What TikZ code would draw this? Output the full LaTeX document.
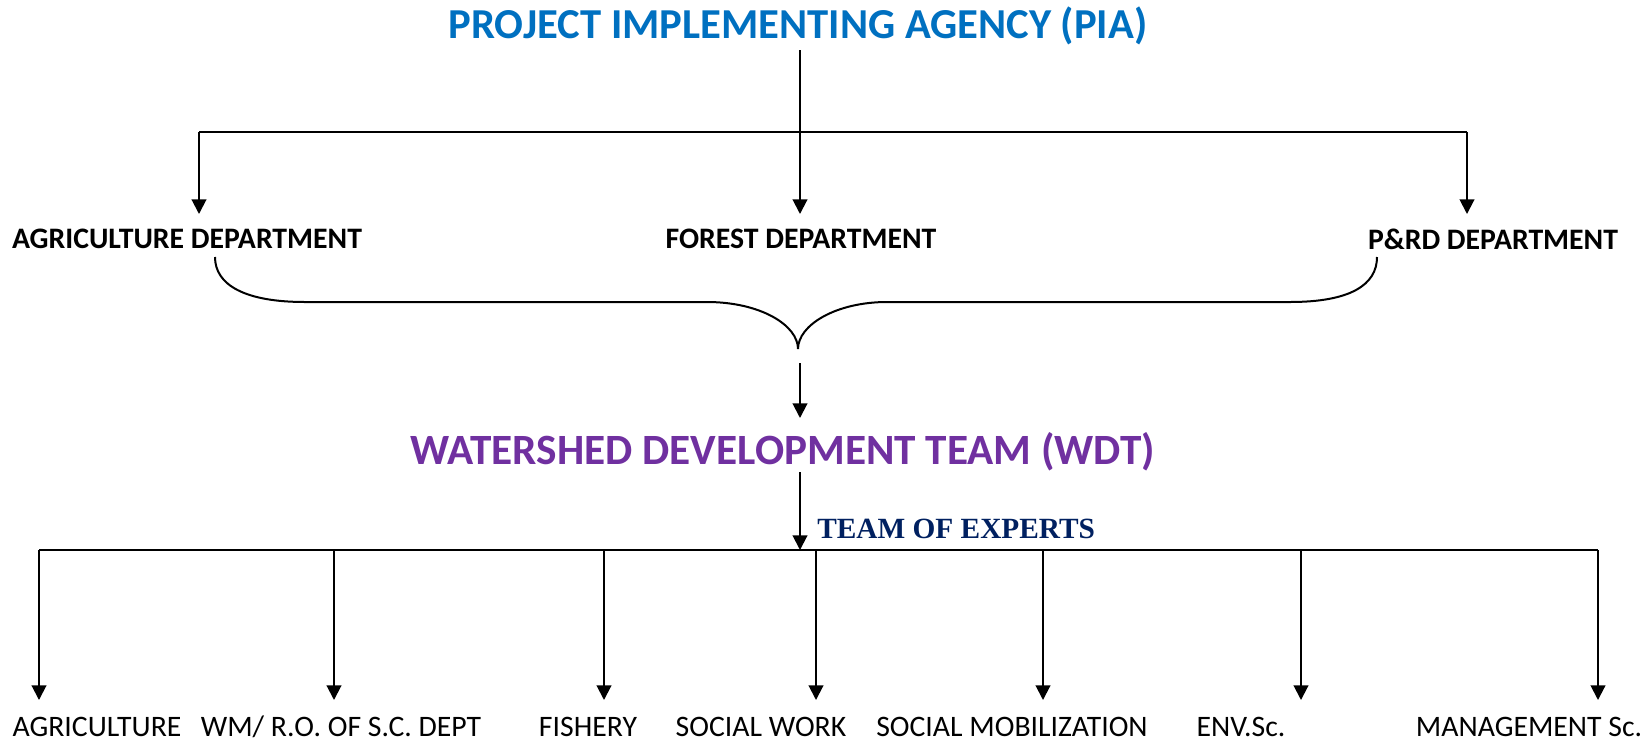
\documentclass[tikz,border=0pt]{standalone}
\usepackage{fontspec}
\setmainfont{Carlito}
\newfontfamily\timesfont{Liberation Serif}
\usetikzlibrary{arrows.meta}
\definecolor{piablue}{HTML}{0070C0}
\definecolor{wdtpurple}{HTML}{7030A0}
\definecolor{navy}{HTML}{002060}
\tikzset{
  conn/.style={line width=1.5pt, draw=black},
  arr/.style={conn, -{Triangle[width=11pt,length=11pt]}},
  toptitle/.style={font=\fontsize{32}{36}\selectfont\bfseries, text=piablue, inner sep=0pt},
  wdttitle/.style={font=\fontsize{32.4}{36}\selectfont\bfseries, text=wdtpurple, inner sep=0pt},
  dept/.style={font=\fontsize{22.3}{26}\selectfont\bfseries, inner sep=0pt},
  expert/.style={font=\fontsize{22.3}{26}\selectfont, inner sep=0pt, anchor=base},
  teamlbl/.style={font=\timesfont\fontsize{22}{26}\selectfont\bfseries, text=navy, inner sep=0pt, anchor=west},
}
\begin{document}
\begin{tikzpicture}[x=0.75pt,y=-0.75pt]
\useasboundingbox (0,0) rectangle (1646,744);
% titles
\node[toptitle] (pia) at (798,26) {PROJECT IMPLEMENTING AGENCY (PIA)};
\node[dept] (agri) at (187,239) {AGRICULTURE DEPARTMENT};
\node[dept] (forest) at (801,239) {FOREST DEPARTMENT};
\node[dept] (prd) at (1493,239) {P\&RD DEPARTMENT};
\node[wdttitle] (wdt) at (783,452) {WATERSHED DEVELOPMENT TEAM (WDT)};
\node[teamlbl] (team) at (817,529) {TEAM OF EXPERTS};
% experts
\node[expert] (e1) at (97,736) {AGRICULTURE};
\node[expert] (e2) at (341,736) {WM/ R.O. OF S.C. DEPT};
\node[expert] (e3) at (588,736) {FISHERY};
\node[expert] (e4) at (761,736) {SOCIAL WORK};
\node[expert] (e5) at (1012,736) {SOCIAL MOBILIZATION};
\node[expert] (e6) at (1241,736) {ENV.Sc.};
\node[expert] (e7) at (1529,736) {MANAGEMENT Sc.};
% coordinates
\coordinate (piaB) at (800,50);
\coordinate (h1L) at (199,132);
\coordinate (h1R) at (1467,132);
\coordinate (t1) at (199,214);
\coordinate (t2) at (800,214);
\coordinate (t3) at (1467,214);
\coordinate (bL) at (215,257);
\coordinate (bR) at (1377,257);
\coordinate (tip) at (798,349);
\coordinate (a1) at (800,363);
\coordinate (a2) at (800,418);
\coordinate (w1) at (800,472);
\coordinate (w2) at (800,550);
\coordinate (hL) at (39,550);
\coordinate (hR) at (1598,550);
\foreach \x/\n in {39/1,334/2,604/3,816/4,1043/5,1301/6,1598/7}{
  \coordinate (s\n) at (\x,550);
  \coordinate (d\n) at (\x,700);
}
% top tree
\draw[conn] (h1L) -- (h1R);
\draw[arr] (piaB) -- (t2);
\draw[arr] (h1L) -- (t1);
\draw[arr] (h1R) -- (t3);
% brace
\draw[conn] (bL) .. controls (215,285) and (245,302) .. (305,302) -- (707,302)
  .. controls (760,302) and (798,325) .. (tip)
  .. controls (798,325) and (836,302) .. (887,302) -- (1290,302)
  .. controls (1350,302) and (1377,285) .. (bR);
\draw[arr] (a1) -- (a2);
\draw[arr] (w1) -- (w2);
\draw[conn] (hL) -- (hR);
% expert arrows
\foreach \n in {1,...,7}{
  \draw[arr] (s\n) -- (d\n);
}
\end{tikzpicture}
\end{document}
